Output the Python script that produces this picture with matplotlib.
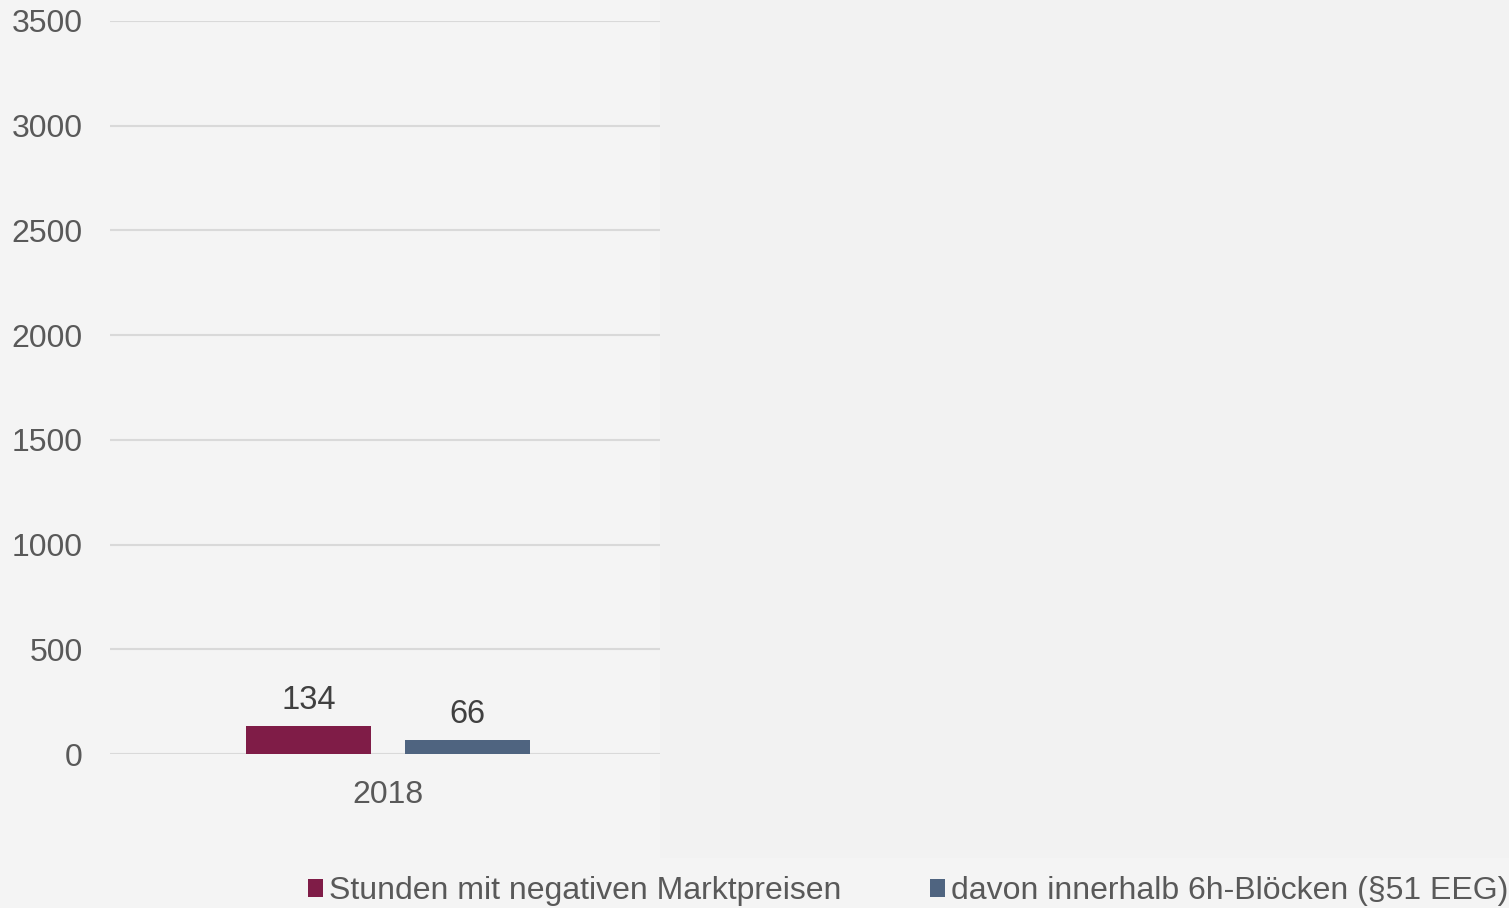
import matplotlib.pyplot as plt
from matplotlib.patches import Rectangle

years = ["2018"]
series_names = ["Stunden mit negativen Marktpreisen", "davon innerhalb 6h-Blöcken (§51 EEG)"]
negative_hours = [134]
block_hours = [66]
colors = ["#7f1c47", "#4f6480"]
y_ticks = [0, 500, 1000, 1500, 2000, 2500, 3000, 3500]

plt.rcParams["font.family"] = ["Liberation Sans", "DejaVu Sans"]

W, H = 1509, 908
fig = plt.figure(figsize=(W / 100, H / 100), dpi=100)
fig.patch.set_facecolor("#f4f4f4")
# slightly darker panel on the right
fig.patches.append(Rectangle((660 / W, 50 / H), 1 - 660 / W, 1 - 50 / H,
                             transform=fig.transFigure, facecolor="#f2f2f2",
                             edgecolor="none", zorder=0))

ax = fig.add_axes([110 / W, (H - 754) / H, 550 / W, 733 / H])
ax.set_facecolor("none")

width = 0.227
offset = 0.144
x = list(range(len(years)))
b1 = ax.bar([i - offset for i in x], negative_hours, width, color=colors[0],
            label=series_names[0], zorder=3)
b2 = ax.bar([i + offset for i in x], block_hours, width, color=colors[1],
            label=series_names[1], zorder=3)

for bars in (b1, b2):
    for rect in bars:
        ax.annotate(f"{rect.get_height():.0f}",
                    (rect.get_x() + rect.get_width() / 2, rect.get_height()),
                    xytext=(0, 7.5), textcoords="offset points", ha="center",
                    va="bottom", fontsize=23.5, color="#404040")

ax.set_xlim(-0.5055, 0.4945)
ax.set_ylim(0, 3500)
ax.set_yticks(y_ticks)
ax.set_xticks(x)
ax.set_xticklabels(years)
ax.grid(axis="y", color="#d9d9d9", linewidth=1.5, zorder=0)
for s in ax.spines.values():
    s.set_visible(False)
ax.tick_params(axis="both", length=0, labelsize=23, labelcolor="#595959")
ax.tick_params(axis="y", pad=19.5)
ax.tick_params(axis="x", pad=18.4)

fig.legend(handles=[b1, b2], labels=series_names, loc="lower left",
           bbox_to_anchor=(279 / W, -27 / H), ncol=2, frameon=False,
           handlelength=0.48, handleheight=0.48, handletextpad=0.2,
           columnspacing=2.75, labelcolor="#595959",
           prop={"size": 23})

fig.savefig("out.png", dpi=100, facecolor=fig.get_facecolor())
